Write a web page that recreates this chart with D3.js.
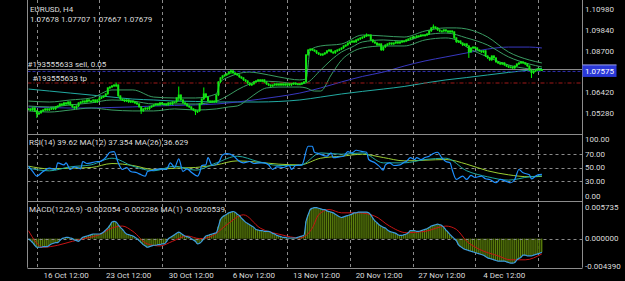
<!DOCTYPE html>
<html>
  <head>
    <title>EURUSD, H4</title>
    <script src="https://d3js.org/d3.v7.min.js"></script>
    <style>
      body { margin: 0; background: #000; }
      svg { display: block; background: #000; }
      text { font-family: Roboto, "DejaVu Sans", sans-serif; font-size: 8px; fill: #dcdcdc; }
    </style>
  </head>
  <body>
    <svg width="625" height="281"></svg>
    <script>
      // ---- data ----
      // H4 closes, one per bar
      var closes = [
        1.0552, 1.0546, 1.0557, 1.0541, 1.0524, 1.0530, 1.0541, 1.0546, 1.0552, 1.0546,
        1.0552, 1.0557, 1.0552, 1.0563, 1.0568, 1.0579, 1.0574, 1.0585, 1.0579, 1.0590,
        1.0574, 1.0563, 1.0557, 1.0568, 1.0585, 1.0590, 1.0595, 1.0590, 1.0601, 1.0595,
        1.0595, 1.0601, 1.0590, 1.0601, 1.0612, 1.0617, 1.0623, 1.0634, 1.0667, 1.0672,
        1.0678, 1.0683, 1.0683, 1.0623, 1.0606, 1.0601, 1.0595, 1.0601, 1.0590, 1.0595,
        1.0590, 1.0585, 1.0579, 1.0563, 1.0541, 1.0552, 1.0557, 1.0552, 1.0563, 1.0568,
        1.0574, 1.0579, 1.0574, 1.0585, 1.0579, 1.0579, 1.0574, 1.0585, 1.0579, 1.0590,
        1.0590, 1.0612, 1.0628, 1.0601, 1.0585, 1.0579, 1.0568, 1.0563, 1.0552, 1.0546,
        1.0535, 1.0541, 1.0579, 1.0606, 1.0634, 1.0617, 1.0595, 1.0590, 1.0595, 1.0590,
        1.0628, 1.0700, 1.0722, 1.0733, 1.0738, 1.0744, 1.0754, 1.0760, 1.0749, 1.0744,
        1.0738, 1.0727, 1.0722, 1.0711, 1.0705, 1.0694, 1.0683, 1.0689, 1.0700, 1.0705,
        1.0711, 1.0705, 1.0711, 1.0700, 1.0689, 1.0683, 1.0678, 1.0683, 1.0689, 1.0683,
        1.0689, 1.0683, 1.0689, 1.0683, 1.0689, 1.0683, 1.0689, 1.0694, 1.0689, 1.0689,
        1.0689, 1.0694, 1.0700, 1.0848, 1.0875, 1.0880, 1.0875, 1.0870, 1.0859, 1.0853,
        1.0848, 1.0853, 1.0859, 1.0870, 1.0875, 1.0864, 1.0859, 1.0870, 1.0875, 1.0880,
        1.0886, 1.0897, 1.0902, 1.0913, 1.0919, 1.0924, 1.0919, 1.0930, 1.0935, 1.0941,
        1.0946, 1.0952, 1.0957, 1.0957, 1.0930, 1.0919, 1.0913, 1.0902, 1.0908, 1.0875,
        1.0891, 1.0902, 1.0908, 1.0913, 1.0908, 1.0913, 1.0919, 1.0913, 1.0919, 1.0924,
        1.0924, 1.0930, 1.0935, 1.0941, 1.0946, 1.0946, 1.0952, 1.0952, 1.0957, 1.0957,
        1.0957, 1.0963, 1.0979, 1.0996, 1.1001, 1.0996, 1.0985, 1.0979, 1.0979, 1.0985,
        1.0979, 1.0974, 1.0979, 1.0974, 1.0941, 1.0919, 1.0924, 1.0913, 1.0902, 1.0908,
        1.0897, 1.0864, 1.0886, 1.0891, 1.0886, 1.0875, 1.0870, 1.0864, 1.0870, 1.0842,
        1.0831, 1.0820, 1.0842, 1.0831, 1.0809, 1.0804, 1.0798, 1.0804, 1.0793, 1.0787,
        1.0782, 1.0782, 1.0776, 1.0787, 1.0798, 1.0804, 1.0809, 1.0804, 1.0798, 1.0787,
        1.0765, 1.0749, 1.0760, 1.0765, 1.0771, 1.0765, 1.0768
      ];

      // bars with visible wicks: [bar, high, low]
      var wicks = [
        [4, 1.0541, 1.0508], [42, 1.0694, 1.0678], [54, 1.0563, 1.0530], [72, 1.0672, 1.0601],
        [80, 1.0546, 1.0524], [84, 1.0667, 1.0606], [97, 1.0765, 1.0749], [162, 1.0963, 1.0952],
        [194, 1.1012, 1.0996], [211, 1.0897, 1.0837], [241, 1.0765, 1.0727]
      ];

      // moving averages on price: [bar, price]
      var maLong = [
        [0, 1.0661], [10, 1.0650], [20, 1.0639], [30, 1.0628], [40, 1.0617], [50, 1.0606],
        [60, 1.0601], [70, 1.0595], [80, 1.0593], [90, 1.0590], [100, 1.0590], [110, 1.0590],
        [120, 1.0593], [130, 1.0601], [140, 1.0617], [150, 1.0634], [160, 1.0648], [170, 1.0661],
        [180, 1.0675], [190, 1.0694], [200, 1.0711], [210, 1.0724], [220, 1.0738], [230, 1.0752],
        [240, 1.0765], [246, 1.0774]
      ];
      var maMid = [
        [0, 1.0563], [10, 1.0560], [20, 1.0557], [30, 1.0557], [40, 1.0560], [50, 1.0563],
        [60, 1.0568], [70, 1.0571], [80, 1.0574], [90, 1.0579], [100, 1.0590], [110, 1.0604],
        [120, 1.0620], [130, 1.0639], [140, 1.0667], [150, 1.0700], [160, 1.0730], [170, 1.0754],
        [180, 1.0787], [190, 1.0815], [200, 1.0837], [210, 1.0859], [220, 1.0880], [230, 1.0891],
        [240, 1.0891], [246, 1.0886]
      ];

      // bands
      var bandUpper = [
        [0, 1.0595], [10, 1.0590], [20, 1.0601], [30, 1.0612], [40, 1.0656], [50, 1.0656],
        [60, 1.0617], [70, 1.0612], [80, 1.0612], [90, 1.0634], [92, 1.0700], [96, 1.0727],
        [100, 1.0744], [106, 1.0754], [110, 1.0749], [120, 1.0727], [130, 1.0711], [133, 1.0716],
        [135, 1.0875], [140, 1.0897], [150, 1.0908], [160, 1.0957], [170, 1.0952], [180, 1.0946],
        [190, 1.0979], [200, 1.0996], [205, 1.0996], [210, 1.0990], [220, 1.0946], [230, 1.0864],
        [240, 1.0820], [246, 1.0804]
      ];
      var bandMiddle = [
        [0, 1.0568], [10, 1.0563], [20, 1.0574], [30, 1.0585], [40, 1.0601], [50, 1.0595],
        [60, 1.0579], [70, 1.0579], [80, 1.0579], [90, 1.0595], [96, 1.0628], [100, 1.0656],
        [106, 1.0689], [110, 1.0705], [120, 1.0700], [130, 1.0689], [133, 1.0694], [140, 1.0765],
        [145, 1.0820], [150, 1.0864], [155, 1.0891], [160, 1.0919], [170, 1.0930], [180, 1.0924],
        [190, 1.0957], [200, 1.0968], [210, 1.0941], [220, 1.0902], [230, 1.0837], [240, 1.0798],
        [246, 1.0782]
      ];
      var bandLower = [
        [0, 1.0541], [10, 1.0535], [20, 1.0546], [30, 1.0557], [40, 1.0546], [50, 1.0541],
        [60, 1.0541], [70, 1.0552], [80, 1.0546], [90, 1.0552], [96, 1.0563], [100, 1.0568],
        [106, 1.0612], [110, 1.0645], [114, 1.0667], [120, 1.0672], [130, 1.0672], [133, 1.0667],
        [137, 1.0650], [140, 1.0650], [145, 1.0738], [150, 1.0820], [155, 1.0864], [160, 1.0886],
        [170, 1.0897], [180, 1.0897], [190, 1.0930], [200, 1.0941], [205, 1.0930], [210, 1.0891],
        [220, 1.0837], [230, 1.0793], [240, 1.0771], [246, 1.0765]
      ];

      // RSI(14) and its averages: [bar, value]
      var rsi = [
        [0, 52], [2, 44], [4, 37], [7, 44], [10, 49], [13, 47], [14, 57], [17, 54], [18, 57],
        [20, 47], [22, 51], [25, 48], [26, 59], [28, 56], [30, 57], [33, 59], [34, 59], [37, 65],
        [39, 73], [41, 74], [43, 57], [45, 47], [47, 50], [49, 44], [52, 42], [54, 39], [56, 37],
        [57, 44], [60, 46], [63, 48], [66, 47], [68, 57], [70, 50], [72, 63], [74, 44], [76, 48],
        [78, 43], [81, 37], [82, 42], [83, 53], [85, 54], [86, 65], [88, 53], [91, 57], [93, 69],
        [95, 71], [98, 68], [100, 62], [103, 57], [106, 59], [108, 56], [111, 57], [113, 57],
        [115, 54], [117, 47], [119, 51], [122, 50], [125, 53], [126, 47], [128, 53], [131, 54],
        [134, 82], [136, 82], [137, 73], [139, 71], [143, 67], [145, 72], [146, 65], [149, 66],
        [151, 67], [153, 74], [155, 72], [157, 76], [160, 74], [162, 73], [163, 62], [166, 57],
        [168, 52], [170, 46], [171, 54], [173, 57], [175, 53], [178, 54], [180, 58], [181, 59],
        [183, 65], [185, 62], [186, 65], [188, 62], [190, 65], [192, 67], [194, 71], [196, 73],
        [198, 65], [200, 59], [202, 57], [203, 47], [205, 32], [208, 37], [210, 32], [212, 38],
        [214, 35], [217, 37], [219, 33], [221, 32], [224, 27], [226, 32], [229, 29], [231, 27],
        [233, 32], [235, 47], [237, 42], [240, 39], [241, 33], [244, 39], [246, 39.62]
      ];
      var rsiMa12 = [
        [0, 49], [10, 45], [20, 51], [30, 54], [40, 64], [50, 52], [60, 45], [70, 52], [80, 46],
        [90, 57], [100, 67], [110, 59], [120, 53], [130, 53], [140, 72], [150, 70], [160, 72],
        [170, 57], [180, 57], [190, 62], [200, 64], [210, 45], [220, 36], [230, 31], [240, 36],
        [246, 37.354]
      ];
      var rsiMa26 = [
        [0, 52], [10, 48], [20, 49], [30, 50], [40, 56], [50, 53], [60, 47], [70, 49], [80, 50],
        [90, 54], [100, 60], [110, 58], [120, 55], [130, 54], [140, 64], [150, 67], [160, 70],
        [170, 65], [180, 60], [190, 61], [200, 62], [210, 55], [220, 45], [230, 39], [240, 36],
        [246, 36.629]
      ];

      // MACD(12,26,9), one value per bar, and its signal line
      var macd = [
        0, -0.0003, -0.0006, -0.0010, -0.0013, -0.0013, -0.0013, -0.0012, -0.0012, -0.0012,
        -0.0010, -0.0008, -0.0007, -0.0006, -0.0006, -0.0003, 0, 0.0001, 0.0002, 0.0002,
        0.0001, 0, -0.0002, -0.0003, -0.0004, -0.0001, 0.0002, 0.0003, 0.0004, 0.0005,
        0.0006, 0.0007, 0.0007, 0.0007, 0.0007, 0.0008, 0.0010, 0.0013, 0.0016, 0.0020,
        0.0025, 0.0026, 0.0025, 0.0021, 0.0017, 0.0014, 0.0010, 0.0007, 0.0006, 0.0005,
        0.0004, 0.0002, 0, -0.0003, -0.0006, -0.0009, -0.0011, -0.0013, -0.0012, -0.0011,
        -0.0010, -0.0010, -0.0009, -0.0009, -0.0008, -0.0008, -0.0005, 0, 0.0002, 0.0004,
        0.0006, 0.0008, 0.0010, 0.0008, 0.0006, 0.0004, 0.0003, 0.0002, 0, -0.0002,
        -0.0004, -0.0008, -0.0007, -0.0004, 0, 0.0004, 0.0005, 0.0006, 0.0007, 0.0008,
        0.0009, 0.0018, 0.0029, 0.0033, 0.0035, 0.0037, 0.0039, 0.0040, 0.0041, 0.0040,
        0.0037, 0.0035, 0.0031, 0.0028, 0.0025, 0.0023, 0.0021, 0.0019, 0.0017, 0.0014,
        0.0013, 0.0012, 0.0012, 0.0011, 0.0011, 0.0011, 0.0010, 0.0008, 0.0007, 0.0005,
        0.0004, 0.0003, 0.0002, 0.0002, 0.0001, 0.0001, 0.0001, 0.0001, 0.0001, 0.0002,
        0.0003, 0.0004, 0.0005, 0.0026, 0.0036, 0.0044, 0.0046, 0.0047, 0.0047, 0.0046,
        0.0045, 0.0044, 0.0044, 0.0042, 0.0041, 0.0040, 0.0039, 0.0037, 0.0035, 0.0033,
        0.0032, 0.0033, 0.0034, 0.0035, 0.0036, 0.0037, 0.0039, 0.0039, 0.0040, 0.0040,
        0.0040, 0.0040, 0.0040, 0.0039, 0.0036, 0.0031, 0.0027, 0.0024, 0.0021, 0.0019,
        0.0017, 0.0016, 0.0013, 0.0011, 0.0010, 0.0009, 0.0008, 0.0006, 0.0005, 0.0005,
        0.0006, 0.0007, 0.0009, 0.0012, 0.0012, 0.0012, 0.0011, 0.0011, 0.0012, 0.0013,
        0.0014, 0.0015, 0.0017, 0.0019, 0.0020, 0.0021, 0.0022, 0.0021, 0.0020, 0.0017,
        0.0013, 0.0010, 0.0006, 0.0003, 0, -0.0003, -0.0009, -0.0012, -0.0014, -0.0016,
        -0.0017, -0.0018, -0.0019, -0.0020, -0.0021, -0.0022, -0.0023, -0.0024, -0.0025, -0.0027,
        -0.0029, -0.0030, -0.0031, -0.0032, -0.0033, -0.0034, -0.0034, -0.0034, -0.0034, -0.0035,
        -0.0036, -0.0037, -0.0037, -0.0036, -0.0032, -0.0030, -0.0028, -0.0025, -0.0025, -0.0026,
        -0.0026, -0.0026, -0.0025, -0.0024, -0.0023, -0.0022, -0.0020539
      ];
      var macdSignal = [
        [0, 0.0012], [7, -0.0013], [14, -0.0010], [21, -0.0004], [28, 0.0001], [34, 0.0006],
        [40, 0.0016], [45, 0.0019], [50, 0.0011], [57, -0.0008], [63, -0.0011], [69, -0.0004],
        [76, 0.0004], [82, 0.0000], [88, 0.0004], [95, 0.0021], [103, 0.0036], [111, 0.0016],
        [121, 0.0006], [130, 0.0001], [136, 0.0016], [139, 0.0036], [144, 0.0044], [150, 0.0039],
        [158, 0.0039], [166, 0.0034], [173, 0.0019], [181, 0.0009], [190, 0.0011], [200, 0.0019],
        [205, 0.0014], [210, -0.0004], [216, -0.0016], [225, -0.0026], [231, -0.0032],
        [238, -0.0032], [246, -0.0023]
      ];

      // order levels and axis ticks
      var bidPrice = 1.07679;
      var sellPrice = 1.07575;
      var tpPrice = 1.0694;
      var priceTicks = [1.1098, 1.0984, 1.087, 1.0642, 1.0528];
      var rsiTicks = [100, 70, 50, 30, 0];
      var rsiLevels = [70, 50, 30];
      var macdTicks = [0.005735, 0, -0.00439];
      var gridBars = [4, 34, 64, 94, 124, 154, 184, 214, 244];
      var dateBars = [18, 48, 78, 108, 138, 168, 198, 228];
      var dateLabels = ["16 Oct 12:00", "23 Oct 12:00", "30 Oct 12:00", "6 Nov 12:00",
        "13 Nov 12:00", "20 Nov 12:00", "27 Nov 12:00", "4 Dec 12:00"];

      // ---- layout ----
      var left = 27.5, right = 582.5;
      var main = { top: 0, bottom: 134.3 };
      var pRsi = { top: 134.3, bottom: 200.7 };
      var pMacd = { top: 200.7, bottom: 267.7 };

      var svg = d3.select("svg");

      var x = d3.scaleLinear().domain([0, closes.length - 1]).range([28.5, 541.9]);
      var yPrice = d3.scaleLinear().domain([1.0528, 1.1098]).range([113.3, 9.3]);
      var yRsi = d3.scaleLinear().domain([0, 100]).range([pRsi.bottom, pRsi.top]);
      var yMacd = d3.scaleLinear().domain([-0.00439, 0.005735]).range([pMacd.bottom, pMacd.top]);

      // clip regions per panel
      var defs = svg.append("defs");
      [["clipMain", main], ["clipRsi", pRsi], ["clipMacd", pMacd]].forEach(function (c) {
        defs.append("clipPath").attr("id", c[0]).append("rect")
          .attr("x", left).attr("y", c[1].top)
          .attr("width", right - left).attr("height", c[1].bottom - c[1].top);
      });

      // vertical dashed grid
      svg.append("g").selectAll("line").data(gridBars).enter().append("line")
        .attr("x1", function (d) { return Math.round(x(d)) + 0.5; })
        .attr("x2", function (d) { return Math.round(x(d)) + 0.5; })
        .attr("y1", 0).attr("y2", pMacd.bottom)
        .style("stroke", "#8a8a8a").style("stroke-dasharray", "3,3");

      // ---- main price panel ----
      var gMain = svg.append("g").attr("clip-path", "url(#clipMain)");

      var priceLine = d3.line()
        .x(function (d) { return x(d[0]); })
        .y(function (d) { return yPrice(d[1]); })
        .curve(d3.curveMonotoneX);

      gMain.append("path").datum(maLong).attr("d", priceLine)
        .style("fill", "none").style("stroke", "#22aaa2").style("stroke-width", 1);
      gMain.append("path").datum(maMid).attr("d", priceLine)
        .style("fill", "none").style("stroke", "#3838c0").style("stroke-width", 1);
      [bandUpper, bandMiddle, bandLower].forEach(function (b) {
        gMain.append("path").datum(b).attr("d", priceLine)
          .style("fill", "none").style("stroke", "#3a9c62").style("stroke-width", 1);
      });

      // order lines
      gMain.append("line").attr("x1", left).attr("x2", right)
        .attr("y1", yPrice(tpPrice)).attr("y2", yPrice(tpPrice))
        .style("stroke", "#a01818").style("stroke-dasharray", "4,2,1,2");
      gMain.append("line").attr("x1", left).attr("x2", right)
        .attr("y1", yPrice(bidPrice)).attr("y2", yPrice(bidPrice))
        .style("stroke", "#8c8c8c");
      gMain.append("line").attr("x1", left).attr("x2", right)
        .attr("y1", yPrice(sellPrice)).attr("y2", yPrice(sellPrice))
        .style("stroke", "#3030b0").style("stroke-dasharray", "3,2");

      // bars
      var wickMap = {};
      wicks.forEach(function (w) { wickMap[w[0]] = w; });
      var bars = gMain.append("g");
      closes.forEach(function (c, i) {
        var o = i > 0 ? closes[i - 1] : c;
        var hi = Math.max(o, c), lo = Math.min(o, c);
        if (wickMap[i]) { hi = Math.max(hi, wickMap[i][1]); lo = Math.min(lo, wickMap[i][2]); }
        bars.append("line")
          .attr("x1", x(i)).attr("x2", x(i))
          .attr("y1", yPrice(hi) - 0.5).attr("y2", yPrice(lo) + 1)
          .style("stroke", "#00ff00").style("stroke-width", 1);
        var top = yPrice(Math.max(o, c));
        bars.append("rect")
          .attr("x", x(i) - 1).attr("width", 2)
          .attr("y", top - 0.5)
          .attr("height", Math.max(1.8, yPrice(Math.min(o, c)) - top + 0.5))
          .style("fill", "#14e614");
      });

      // header texts
      svg.append("text").attr("x", 30).attr("y", 11.5).text("EURUSD, H4");
      svg.append("text").attr("x", 30).attr("y", 22).text("1.07678 1.07707 1.07667 1.07679");
      svg.append("text").attr("x", 27.5).attr("y", yPrice(sellPrice) - 4)
        .text("#193555633 sell, 0.05");
      svg.append("text").attr("x", 32.5).attr("y", yPrice(tpPrice) - 2.5)
        .text("#193555633 tp");

      // ---- RSI panel ----
      var gRsi = svg.append("g").attr("clip-path", "url(#clipRsi)");
      gRsi.selectAll("line.lvl").data(rsiLevels).enter().append("line")
        .attr("x1", left).attr("x2", right)
        .attr("y1", function (d) { return Math.round(yRsi(d)) + 0.5; })
        .attr("y2", function (d) { return Math.round(yRsi(d)) + 0.5; })
        .style("stroke", "#8a8a8a").style("stroke-dasharray", "3,3");

      var rsiLine = d3.line()
        .x(function (d) { return x(d[0]); })
        .y(function (d) { return yRsi(d[1]); })
        .curve(d3.curveMonotoneX);
      gRsi.append("path").datum(rsiMa26).attr("d", rsiLine)
        .style("fill", "none").style("stroke", "#9acd32").style("stroke-width", 1);
      gRsi.append("path").datum(rsiMa12).attr("d", rsiLine)
        .style("fill", "none").style("stroke", "#20a8a0").style("stroke-width", 1);
      gRsi.append("path").datum(rsi).attr("d", rsiLine)
        .style("fill", "none").style("stroke", "#1e90ff").style("stroke-width", 1.2);

      svg.append("text").attr("x", 29).attr("y", 145)
        .text("RSI(14) 39.62 MA(12) 37.354 MA(26) 36.629");

      // ---- MACD panel ----
      var gMacd = svg.append("g").attr("clip-path", "url(#clipMacd)");
      var barW = x(1) - x(0);
      gMacd.selectAll("rect.hist").data(macd).enter().append("rect")
        .attr("x", function (d, i) { return x(i) - barW / 2; })
        .attr("width", barW)
        .attr("y", function (d) { return Math.min(yMacd(d), yMacd(0)); })
        .attr("height", function (d) { return Math.abs(yMacd(d) - yMacd(0)); })
        .style("fill", "#243300");
      gMacd.selectAll("line.hist").data(macd).enter().append("line")
        .attr("x1", function (d, i) { return x(i) - barW / 2 + 0.5; })
        .attr("x2", function (d, i) { return x(i) - barW / 2 + 0.5; })
        .attr("y1", function (d) { return yMacd(d); })
        .attr("y2", yMacd(0))
        .style("stroke", "#78a814").style("stroke-width", 0.7);

      gMacd.append("line").attr("x1", left).attr("x2", right)
        .attr("y1", Math.round(yMacd(0)) + 0.5).attr("y2", Math.round(yMacd(0)) + 0.5)
        .style("stroke", "#8a8a8a").style("stroke-dasharray", "3,3");

      gMacd.append("path").datum(macdSignal)
        .attr("d", d3.line()
          .x(function (d) { return x(d[0]); })
          .y(function (d) { return yMacd(d[1]); })
          .curve(d3.curveMonotoneX))
        .style("fill", "none").style("stroke", "#c81414").style("stroke-width", 1);
      gMacd.append("path").datum(macd)
        .attr("d", d3.line()
          .x(function (d, i) { return x(i); })
          .y(function (d) { return yMacd(d); })
          .curve(d3.curveMonotoneX))
        .style("fill", "none").style("stroke", "#3d9ee0").style("stroke-width", 1.2);

      svg.append("text").attr("x", 29).attr("y", 211.5)
        .text("MACD(12,26,9) -0.002054 -0.002286 MA(1) -0.0020539");

      // ---- frames ----
      var frame = svg.append("g").style("stroke", "#8c8c8c").style("stroke-width", 1);
      frame.append("line").attr("x1", left).attr("x2", left).attr("y1", 0).attr("y2", pMacd.bottom);
      frame.append("line").attr("x1", right).attr("x2", right).attr("y1", 0).attr("y2", pMacd.bottom);
      [main.bottom, pRsi.bottom, pMacd.bottom].forEach(function (yv) {
        frame.append("line").attr("x1", left).attr("x2", right)
          .attr("y1", Math.round(yv) + 0.5).attr("y2", Math.round(yv) + 0.5);
      });

      // ---- right axis labels ----
      svg.append("g").selectAll("text").data(priceTicks).enter().append("text")
        .attr("x", 585).attr("y", function (d) { return yPrice(d); })
        .attr("dy", "0.35em").text(function (d) { return d.toFixed(5); });

      var badgeY = yPrice(sellPrice);
      svg.append("rect").attr("x", right).attr("y", badgeY - 6.5)
        .attr("width", 34).attr("height", 12).style("fill", "#2a38d8");
      svg.append("line").attr("x1", right).attr("x2", right + 34)
        .attr("y1", badgeY - 6.5).attr("y2", badgeY - 6.5).style("stroke", "#9aa0e8");
      svg.append("text").attr("x", 585).attr("y", badgeY).attr("dy", "0.35em")
        .style("fill", "#ffffff").text(sellPrice.toFixed(5));

      svg.append("g").selectAll("text").data(rsiTicks).enter().append("text")
        .attr("x", 585)
        .attr("y", function (d) { return Math.max(pRsi.top + 5, Math.min(pRsi.bottom - 5, yRsi(d))); })
        .attr("dy", "0.35em").text(function (d) { return d.toFixed(2); });

      svg.append("g").selectAll("text").data(macdTicks).enter().append("text")
        .attr("x", 585)
        .attr("y", function (d) { return Math.max(pMacd.top + 6, Math.min(pMacd.bottom - 2, yMacd(d))); })
        .attr("dy", "0.35em").text(function (d) { return d.toFixed(6); });

      // ---- date labels ----
      svg.append("g").selectAll("text").data(dateBars).enter().append("text")
        .attr("x", function (d) { return x(d); }).attr("y", 278)
        .style("text-anchor", "middle")
        .text(function (d, i) { return dateLabels[i]; });
    </script>
  </body>
</html>
